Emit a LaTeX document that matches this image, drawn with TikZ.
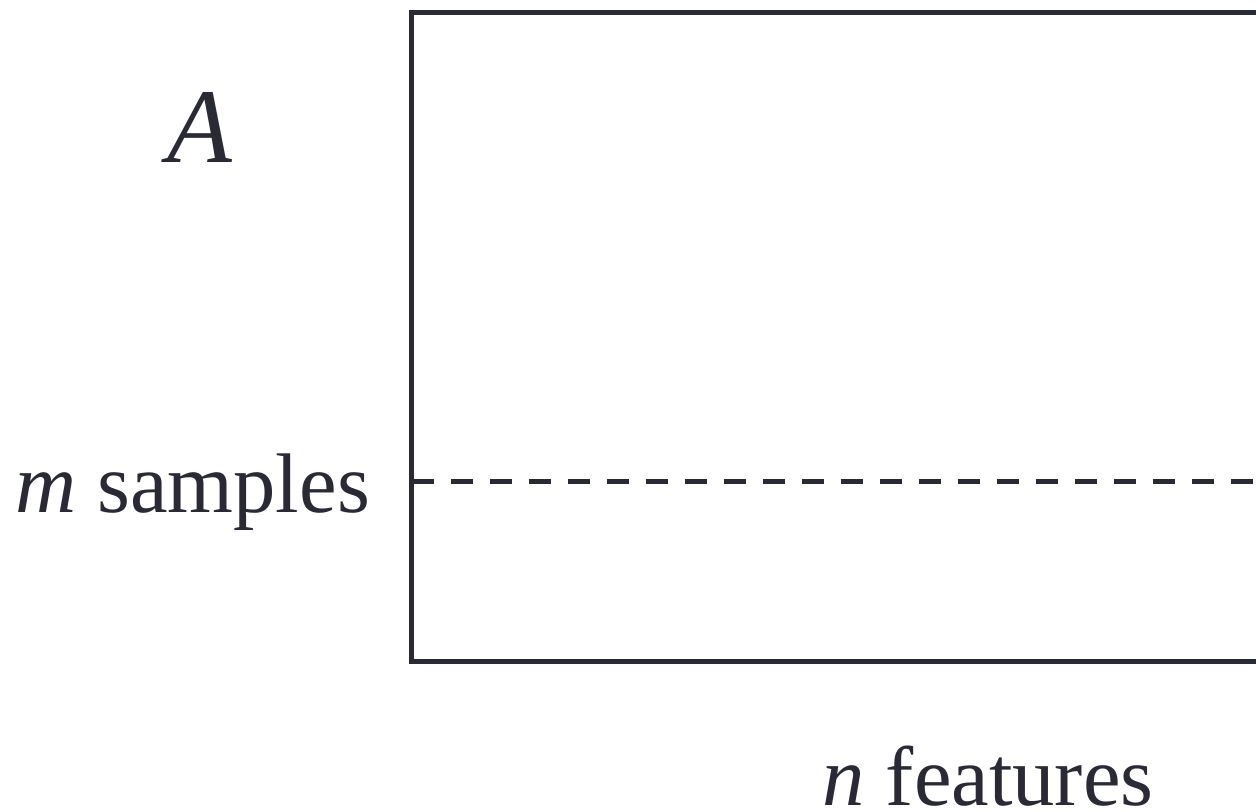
\documentclass[tikz,border=0pt]{standalone}
\usepackage{fontspec}
\setmainfont{Liberation Serif}
\definecolor{ink}{RGB}{42,42,53}
\begin{document}
\begin{tikzpicture}[x=0.5pt,y=-0.5pt,
  frame/.style={draw=ink,line width=2.5pt},
  split/.style={draw=ink,line width=2.5pt,dash pattern=on 11pt off 8.5pt},
  label/.style={text=ink,inner sep=0pt,anchor=base,font=\fontsize{42.3}{50}\selectfont},
  title/.style={text=ink,inner sep=0pt,anchor=base,font=\fontsize{53}{60}\selectfont\itshape}]
\useasboundingbox (0,0) rectangle (1256,811);
\begin{scope}
  \clip (0,0) rectangle (1256,811);
  % data matrix, running past the right border
  \draw[frame] (1300,12.5) -- (411.5,12.5) -- (411.5,661) -- (1300,661);
  % split between the sample rows
  \draw[split] (411.5,481.5) -- (1300,481.5);
  \node[label] (cols) at (988,805) {\textit{n} features};
\end{scope}
\node[title] (name) at (200,162) {A};
\node[label] (rows) at (192.5,512) {\textit{m} samples};
\end{tikzpicture}
\end{document}
